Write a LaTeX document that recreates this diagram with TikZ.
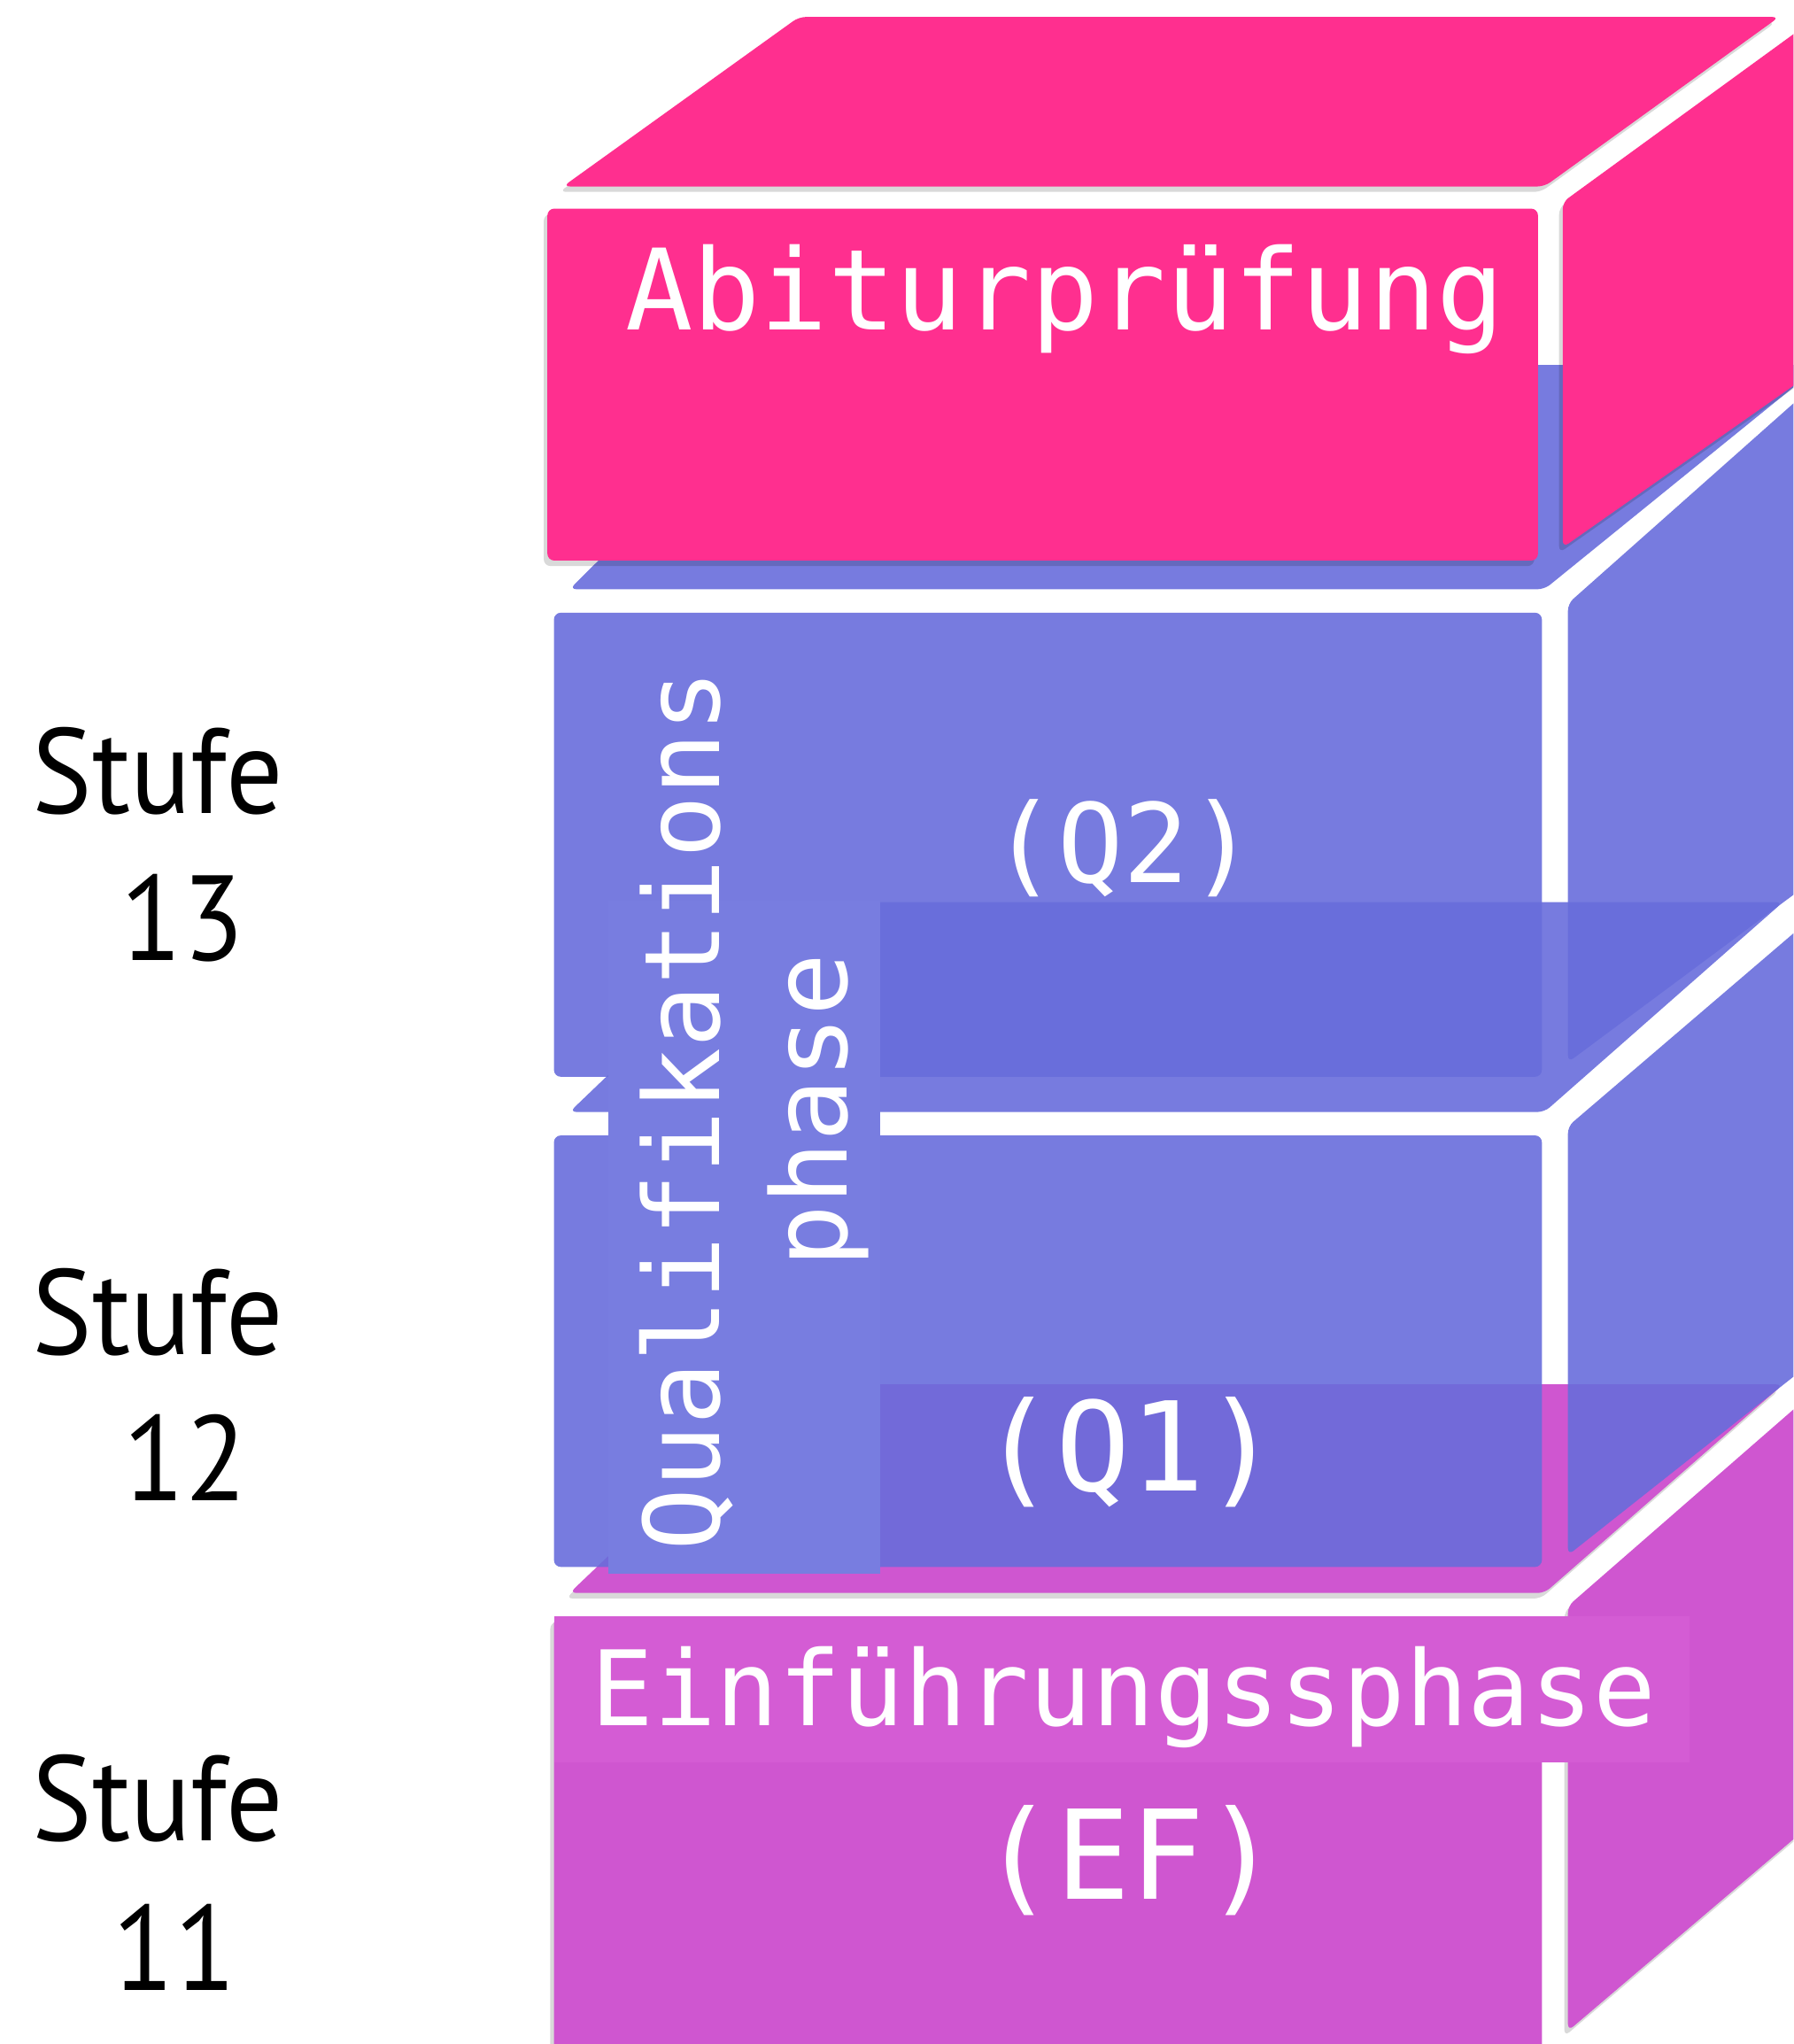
\documentclass[tikz,border=0pt]{standalone}
\usepackage{fontspec}
\usetikzlibrary{shadows}
\newfontfamily\monofont{DejaVu Sans Mono}
\newfontfamily\stufefont[FakeStretch=0.93]{PT Sans}
\definecolor{abipink}{RGB}{255,47,143}
\definecolor{qblue}{RGB}{104,109,219}
\definecolor{qlabel}{RGB}{120,125,224}
\definecolor{efmag}{RGB}{207,86,208}
\definecolor{eflabel}{RGB}{212,92,212}
\begin{document}
\begin{tikzpicture}[x=0.01cm, y=-0.01cm,
  face/.style={rounded corners=1.5pt},
  shaded face/.style={face, drop shadow={shadow xshift=-0.8pt, shadow yshift=-1.2pt, opacity=0.15, fill=black}},
  abiface/.style={shaded face, fill=abipink},
  qface/.style={face, fill=qblue, fill opacity=0.9},
  efface/.style={shaded face, fill=efmag},
  phasetext/.style={text=white, inner sep=0pt},
  stufetext/.style={inner sep=0pt, anchor=base, font=\stufefont\fontsize{26.4}{30}\selectfont}]
\useasboundingbox (0,0) rectangle (1376,1568);
\clip (0,0) rectangle (1376,1568);
\def\xl{425}
\def\xr{1183}
\def\xs{1203}
%EF block
\fill[efface] (437,1222) -- (605,1062) -- (1368,1062) -- (1185,1222) -- cycle; %top
\fill[efface] (\xs,1232) -- (1390,1069) -- (1390,1399) -- (\xs,1558) -- cycle; %side
\fill[efface] (\xl,1240) rectangle (\xr,1590); %front
\fill[eflabel] (\xl,1240) rectangle (1296,1352);
%Q1 block
\fill[qface] (437,853) -- (605,692) -- (1368,692) -- (1185,853) -- cycle; %top
\fill[qface] (\xs,864) -- (1390,704) -- (1390,1045) -- (\xs,1193) -- cycle; %side
\fill[qface] (\xl,871) rectangle (\xr,1202); %front
%Q2 block
\fill[qface] (437,452) -- (610,280) -- (1397,280) -- (1185,452) -- cycle; %top
\fill[qface] (\xs,463) -- (1390,297) -- (1390,676) -- (\xs,815) -- cycle; %side
\fill[qface] (\xl,470) rectangle (\xr,826); %front
%label box
\fill[qlabel] (467,691) rectangle (675,1207);
%Abitur block
\fill[abiface] (432,143) -- (613,13) -- (1365,13) -- (1185,143) -- cycle; %top
\fill[abiface] (1199,155) -- (1390,16) -- (1390,286) -- (1199,420) -- cycle; %side
\fill[abiface] (420,160) rectangle (1180,430); %front
%labels
\node[phasetext, anchor=base, font=\monofont\fontsize{24.5}{29}\selectfont] (abi) at (817,253) {Abiturprüfung};
\node[phasetext, anchor=base, font=\monofont\fontsize{23.9}{29}\selectfont] (q2) at (862,677) {(Q2)};
\node[phasetext, anchor=base, font=\monofont\fontsize{27}{32}\selectfont] (q1) at (867,1144) {(Q1)};
\node[phasetext, anchor=base, font=\monofont\fontsize{22.7}{27}\selectfont] (einf) at (862,1324) {Einführungssphase};
\node[phasetext, anchor=base, font=\monofont\fontsize{27}{32}\selectfont] (ef) at (867,1457) {(EF)};
\node[phasetext, anchor=base, rotate=90, font=\monofont\fontsize{22.8}{27}\selectfont] (quali) at (552,852) {Qualifikations};
\node[phasetext, anchor=base, rotate=90, font=\monofont\fontsize{22.8}{27}\selectfont] (phase) at (650,852) {phase};
%Stufe
\node[stufetext] (s13) at (121,624) {Stufe};
\node[stufetext] (n13) at (140,737) {13};
\node[stufetext] (s12) at (121,1039) {Stufe};
\node[stufetext] (n12) at (142,1151) {12};
\node[stufetext] (s11) at (121,1412) {Stufe};
\node[stufetext] (n11) at (134,1527) {11};
\end{tikzpicture}
\end{document}
